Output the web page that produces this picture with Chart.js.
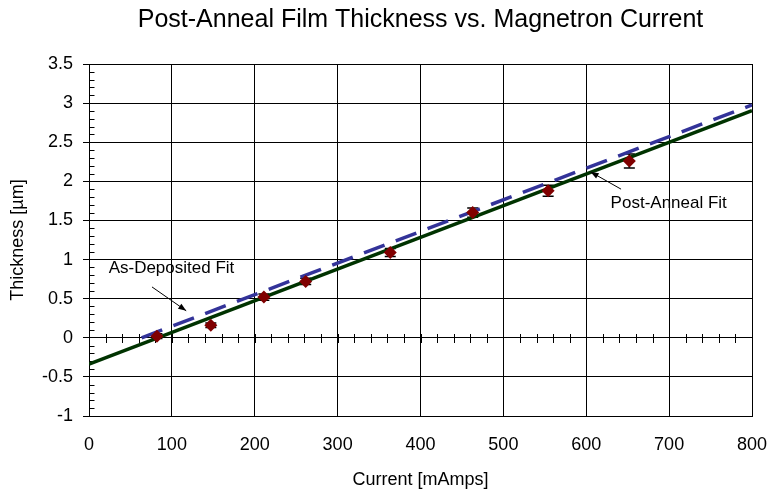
<!DOCTYPE html>
<html><head><meta charset="utf-8">
<script src="https://cdn.jsdelivr.net/npm/chart.js@4/dist/chart.umd.min.js"></script>
<style>html,body{margin:0;padding:0;background:#fff;}#wrap{width:769px;height:491px;}</style>
</head><body><div id="wrap"><canvas id="c" width="769" height="491"></canvas></div>
<script>
// ---- data ----
const currentMA    = [82, 147, 211, 261.5, 363.5, 463, 554, 652];
const thicknessUm  = [0.02, 0.16, 0.52, 0.72, 1.09, 1.60, 1.88, 2.26];
const thicknessErr = [0.03, 0.03, 0.04, 0.04, 0.05, 0.06, 0.07, 0.09];
const postAnnealFitX = [0, 800];
const postAnnealFitY = [-0.336, 2.903];
const asDepositedFitX = [63.5, 800];
const asDepositedFitY = [0, 2.976];
const xTicks = [0, 100, 200, 300, 400, 500, 600, 700, 800];
const yTicks = [-1, -0.5, 0, 0.5, 1, 1.5, 2, 2.5, 3, 3.5];
const xMinorStep = 20;
const yMinorStep = 0.1;
const annotationLabels = ['As-Deposited Fit', 'Post-Anneal Fit'];
const annotationTextX  = [23.7, 629.4];
const annotationTextY  = [0.89, 1.72];
const arrowFromX = [76, 642];
const arrowFromY = [0.65, 1.90];
const arrowToX   = [117.3, 605.3];
const arrowToY   = [0.345, 2.12];

const FONT = "'Liberation Sans', Arial, Helvetica, sans-serif";

const toXY = (xs, ys) => xs.map((x, i) => ({x: x, y: ys[i]}));

const extras = {
  id: 'extras',
  beforeDatasetsDraw(chart) {
    const {ctx, scales: {x, y}} = chart;
    ctx.save();
    // error bars
    ctx.strokeStyle = '#000';
    ctx.lineWidth = 1.5;
    currentMA.forEach((cx, i) => {
      const px = x.getPixelForValue(cx);
      const top = y.getPixelForValue(thicknessUm[i] + thicknessErr[i]);
      const bot = y.getPixelForValue(thicknessUm[i] - thicknessErr[i]);
      ctx.beginPath();
      ctx.moveTo(px, top); ctx.lineTo(px, bot);
      ctx.moveTo(px - 5.5, top); ctx.lineTo(px + 5.5, top);
      ctx.moveTo(px - 5.5, bot); ctx.lineTo(px + 5.5, bot);
      ctx.stroke();
    });
    // minor ticks on y axis (inside)
    ctx.lineWidth = 1;
    const left = Math.round(chart.chartArea.left) + 0.5;
    ctx.beginPath();
    for (let v = y.min; v <= y.max + 1e-9; v += yMinorStep) {
      const r = Math.round(v * 10) / 10;
      if (Math.abs(r * 2 - Math.round(r * 2)) < 1e-6) continue;
      const py = Math.round(y.getPixelForValue(r)) + 0.5;
      ctx.moveTo(left, py); ctx.lineTo(left + 5, py);
    }
    // cross ticks on the y = 0 line
    const y0 = Math.round(y.getPixelForValue(0)) + 0.5;
    for (let v = x.min + xMinorStep; v < x.max; v += xMinorStep) {
      const px = Math.round(x.getPixelForValue(v)) + 0.5;
      ctx.moveTo(px, y0 - 4.5); ctx.lineTo(px, y0 + 4.5);
    }
    ctx.stroke();
    ctx.restore();
  },
  afterDatasetsDraw(chart) {
    const {ctx, scales: {x, y}} = chart;
    ctx.save();
    ctx.fillStyle = '#000';
    ctx.strokeStyle = '#000';
    ctx.lineWidth = 1;
    ctx.font = '17px ' + FONT;
    ctx.textBaseline = 'middle';
    ctx.textAlign = 'left';
    annotationLabels.forEach((t, i) => {
      ctx.fillText(t, x.getPixelForValue(annotationTextX[i]), y.getPixelForValue(annotationTextY[i]));
      const x1 = x.getPixelForValue(arrowFromX[i]), y1 = y.getPixelForValue(arrowFromY[i]);
      const x2 = x.getPixelForValue(arrowToX[i]), y2 = y.getPixelForValue(arrowToY[i]);
      ctx.beginPath(); ctx.moveTo(x1, y1); ctx.lineTo(x2, y2); ctx.stroke();
      const a = Math.atan2(y2 - y1, x2 - x1), L = 8, W = 3;
      ctx.beginPath();
      ctx.moveTo(x2, y2);
      ctx.lineTo(x2 - L * Math.cos(a) + W * Math.sin(a), y2 - L * Math.sin(a) - W * Math.cos(a));
      ctx.lineTo(x2 - L * Math.cos(a) - W * Math.sin(a), y2 - L * Math.sin(a) + W * Math.cos(a));
      ctx.closePath(); ctx.fill();
    });
    ctx.restore();
  }
};

new Chart(document.getElementById('c'), {
  type: 'scatter',
  data: {
    datasets: [
      {
        label: 'Post-Anneal Thickness',
        data: toXY(currentMA, thicknessUm),
        pointStyle: 'rectRot',
        pointRadius: 6.5,
        pointBackgroundColor: '#800000',
        pointBorderColor: '#800000',
        pointBorderWidth: 0,
        showLine: false,
        order: 0
      },
      {
        label: 'Post-Anneal Fit',
        data: toXY(postAnnealFitX, postAnnealFitY),
        showLine: true,
        borderColor: '#003300',
        borderWidth: 3.5,
        pointRadius: 0,
        order: 1
      },
      {
        label: 'As-Deposited Fit',
        data: toXY(asDepositedFitX, asDepositedFitY),
        showLine: true,
        borderColor: '#333399',
        borderWidth: 3.5,
        borderDash: [22, 12],
        pointRadius: 0,
        order: 2
      }
    ]
  },
  plugins: [extras],
  options: {
    responsive: false,
    animation: false,
    devicePixelRatio: 1,
    layout: {padding: {top: 0, right: 17, bottom: 0, left: 0}},
    plugins: {
      legend: {display: false},
      tooltip: {enabled: false},
      title: {
        display: true,
        fullSize: false,
        text: 'Post-Anneal Film Thickness vs. Magnetron Current',
        color: '#000',
        font: {family: FONT, size: 25, weight: 'normal', lineHeight: 1.2},
        padding: {top: 5, bottom: 29}
      }
    },
    scales: {
      x: {
        type: 'linear',
        min: 0, max: 800,
        afterBuildTicks: s => { s.ticks = xTicks.map(v => ({value: v})); },
        afterFit: s => { s.height = 75; s.paddingLeft = 0; s.paddingRight = 0; },
        grid: {color: '#000', lineWidth: 1, drawTicks: false},
        border: {display: true, color: '#000', width: 1},
        ticks: {color: '#000', font: {family: FONT, size: 18}, padding: 18, maxRotation: 0},
        title: {display: true, text: 'Current [mAmps]', color: '#000', font: {family: FONT, size: 18}, padding: {top: 0, bottom: 0}}
      },
      y: {
        type: 'linear',
        min: -1, max: 3.5,
        afterBuildTicks: s => { s.ticks = yTicks.map(v => ({value: v})); },
        afterFit: s => { s.width = 89; },
        grid: {color: '#000', lineWidth: 1, drawTicks: true, tickLength: 6, tickColor: '#000'},
        border: {display: true, color: '#000', width: 1},
        ticks: {color: '#000', font: {family: FONT, size: 18}, padding: 10,
                callback: v => String(v)},
        title: {display: true, text: 'Thickness [µm]', color: '#000', font: {family: FONT, size: 18}, padding: {top: 7, bottom: 0}}
      }
    }
  }
});
</script></body></html>
